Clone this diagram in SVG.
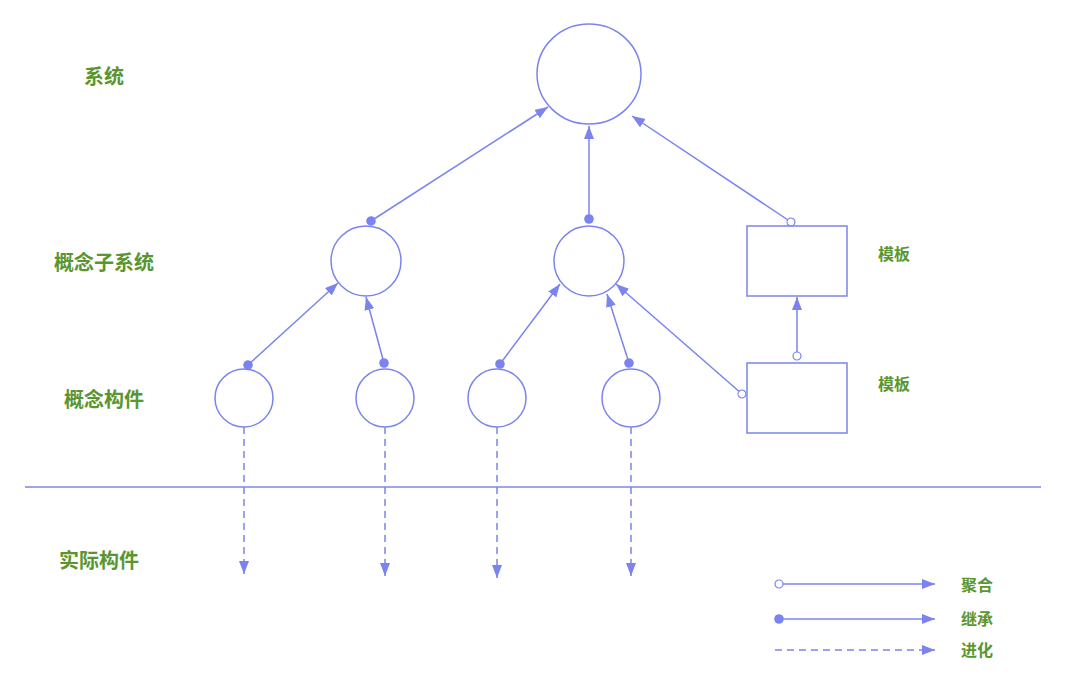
<svg xmlns="http://www.w3.org/2000/svg" width="1065" height="692" viewBox="0 0 1065 692">
<style>
.shape{fill:#fff;stroke:#7b84ee;stroke-width:1.5}
.ln{fill:none;stroke:#7b84ee;stroke-width:1.5}
.dash{stroke-dasharray:7 5}
.lbl{font-family:"Noto Sans CJK SC","Noto Sans",sans-serif;font-weight:bold;fill:#5a9630;font-size:20px;text-anchor:middle;dominant-baseline:central}
.sm{font-size:16px}
</style>
<defs>
<marker id="arr" markerUnits="userSpaceOnUse" markerWidth="15" markerHeight="11" refX="13" refY="5" orient="auto"><path d="M0,0 L13,5 L0,10 z" fill="#7b84ee"/></marker>
<marker id="dot" markerUnits="userSpaceOnUse" markerWidth="12" markerHeight="12" refX="6" refY="6" orient="auto"><circle cx="6" cy="6" r="4.8" fill="#7b84ee"/></marker>
<marker id="ring" markerUnits="userSpaceOnUse" markerWidth="12" markerHeight="12" refX="6" refY="6" orient="auto"><circle cx="6" cy="6" r="4" fill="#fff" stroke="#7b84ee" stroke-width="1.2"/></marker>
</defs>
<rect width="1065" height="692" fill="#fff"/>
<g id="labels">
<text class="lbl" x="104" y="75">系统</text>
<text class="lbl" x="104" y="261">概念子系统</text>
<text class="lbl" x="104" y="398">概念构件</text>
<text class="lbl" x="99" y="559">实际构件</text>
</g>
<line class="ln" x1="25" y1="487" x2="1041" y2="487"/>
<g id="connectors">
<line class="ln" x1="371" y1="221" x2="548" y2="107" marker-start="url(#dot)" marker-end="url(#arr)"/>
<line class="ln" x1="589" y1="219" x2="589" y2="126" marker-start="url(#dot)" marker-end="url(#arr)"/>
<line class="ln" x1="791" y1="222" x2="632" y2="116" marker-start="url(#ring)" marker-end="url(#arr)"/>
<line class="ln" x1="248" y1="365" x2="338" y2="283" marker-start="url(#dot)" marker-end="url(#arr)"/>
<line class="ln" x1="384" y1="363" x2="366" y2="297" marker-start="url(#dot)" marker-end="url(#arr)"/>
<line class="ln" x1="500" y1="364" x2="560" y2="284" marker-start="url(#dot)" marker-end="url(#arr)"/>
<line class="ln" x1="629" y1="363" x2="607" y2="294" marker-start="url(#dot)" marker-end="url(#arr)"/>
<line class="ln" x1="742" y1="394" x2="616" y2="284" marker-start="url(#ring)" marker-end="url(#arr)"/>
<line class="ln" x1="797" y1="356" x2="797" y2="297" marker-start="url(#ring)" marker-end="url(#arr)"/>
<line class="ln dash" x1="244" y1="427" x2="244" y2="574" marker-end="url(#arr)"/>
<line class="ln dash" x1="385" y1="427" x2="385" y2="576" marker-end="url(#arr)"/>
<line class="ln dash" x1="497" y1="427" x2="497" y2="578" marker-end="url(#arr)"/>
<line class="ln dash" x1="631" y1="427" x2="631" y2="576" marker-end="url(#arr)"/>
</g>
<g id="system"><ellipse class="shape" cx="589" cy="74" rx="52" ry="50"/></g>
<g id="sub1"><circle class="shape" cx="366" cy="261" r="35"/></g>
<g id="sub2"><circle class="shape" cx="589" cy="261" r="35"/></g>
<g id="tpl1"><rect class="shape" x="747" y="226" width="100" height="70"/><text class="lbl sm" x="894" y="253">模板</text></g>
<g id="tpl2"><rect class="shape" x="747" y="363" width="100" height="70"/><text class="lbl sm" x="894" y="383">模板</text></g>
<g id="comp1"><circle class="shape" cx="244" cy="398" r="29"/></g>
<g id="comp2"><circle class="shape" cx="385" cy="398" r="29"/></g>
<g id="comp3"><circle class="shape" cx="497" cy="398" r="29"/></g>
<g id="comp4"><circle class="shape" cx="631" cy="398" r="29"/></g>
<g id="legend">
<line class="ln" x1="779" y1="584" x2="935" y2="584" marker-start="url(#ring)" marker-end="url(#arr)"/>
<line class="ln" x1="779" y1="619" x2="935" y2="619" marker-start="url(#dot)" marker-end="url(#arr)"/>
<line class="ln dash" x1="775" y1="650" x2="935" y2="650" marker-end="url(#arr)"/>
<text class="lbl sm" x="977" y="584">聚合</text>
<text class="lbl sm" x="977" y="618">继承</text>
<text class="lbl sm" x="977" y="649">进化</text>
</g>
</svg>
